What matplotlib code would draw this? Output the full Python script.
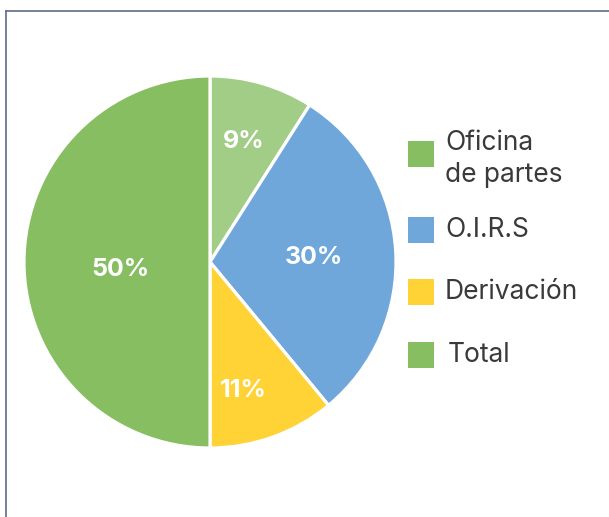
"""
Pie chart of requests by channel
"""
import numpy as np
import matplotlib.pyplot as plt
from matplotlib.patches import Rectangle
from matplotlib.lines import Line2D

plt.rcParams['font.family'] = ['Inter', 'DejaVu Sans']

# slice data, clockwise from the top
slice_values = [9, 30, 11, 50]
slice_colors = ['#a2cd86', '#70a7da', '#ffd236', '#88be62']
label_dist = [0.68, 0.56, 0.70, 0.48]
label_nudge = [(-2, -1), (0, -2), (-11, -6), (0, -8)]  # pixels, y up

legend_labels = ['Oficina\nde partes', 'O.I.R.S', 'Derivación', 'Total']
legend_colors = ['#88be62', '#70a7da', '#ffd236', '#88be62']

R_PX = 186.0

fig = plt.figure(figsize=(6.09, 5.17), dpi=100)
fig.patch.set_facecolor('white')

ax = fig.add_axes([24 / 609, 69 / 517, 372 / 609, 372 / 517])
ax.pie(slice_values, colors=slice_colors, startangle=90, counterclock=False,
       radius=1.0, wedgeprops=dict(edgecolor='white', linewidth=2.3))
ax.set_xlim(-1, 1)
ax.set_ylim(-1, 1)
ax.set_aspect('equal')
ax.axis('off')

# percentage labels inside the slices
total = sum(slice_values)
start = 90.0
for val, dist, (nx, ny) in zip(slice_values, label_dist, label_nudge):
    span = 360.0 * val / total
    mid = np.radians(start - span / 2)
    ax.text(dist * np.cos(mid) + nx / R_PX, dist * np.sin(mid) + ny / R_PX,
            f'{val}%', ha='center', va='center', color='white',
            fontsize=18, fontweight='bold')
    start -= span

# legend drawn by hand so the boxes line up with the text
legend_y = [159, 230, 292, 355]
for lab, col, yy in zip(legend_labels, legend_colors, legend_y):
    box_y = 154 if lab.startswith('Oficina') else yy
    fig.add_artist(Rectangle((408 / 609, 1 - (box_y + 13) / 517), 26 / 609, 26 / 517,
                             transform=fig.transFigure, facecolor=col,
                             edgecolor='none'))
    xoff = 448 if lab == 'Total' else 445
    fig.text(xoff / 609, 1 - yy / 517, lab, ha='left', va='center',
             fontsize=19, color='#3a3a3a', linespacing=1.25)

# frame around the panel
frame = '#5b6b88'
fig.add_artist(Line2D([5.5 / 609, 5.5 / 609], [0, 1 - 11 / 517],
                      transform=fig.transFigure, color=frame, linewidth=1.2))
fig.add_artist(Line2D([5.5 / 609, 1], [1 - 11 / 517, 1 - 11 / 517],
                      transform=fig.transFigure, color=frame, linewidth=1.2))

fig.savefig('out.png', dpi=100)
